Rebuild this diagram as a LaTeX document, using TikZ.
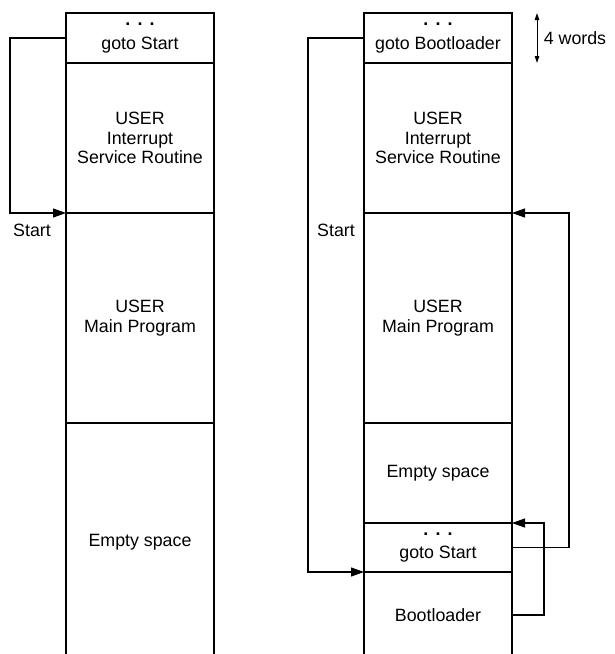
\documentclass[tikz,border=0pt]{standalone}
\usepackage{fontspec}
\setmainfont{Liberation Sans}
\usetikzlibrary{arrows.meta}
\usetikzlibrary{calc}
\newcommand{\drawopensect}[4]{
	\node (#1) [anchor=north,minimum width=148pt,minimum height=#3,outer sep=0pt,align=center] at #2 {#4};
	\draw (#1.south west) -- (#1.north west) -- (#1.north east) -- (#1.south east);
}
\newcommand{\memdots}{\textbf{.\hspace{.4em}.\hspace{.4em}.}}

\begin{document}
\begin{tikzpicture}[x=1pt,y=-1pt,line width=1.1pt,font=\fontsize{17.8}{19.5}\selectfont,
	sect/.style={draw,anchor=north,minimum width=148pt,outer sep=0pt,align=center},
	gotoline/.style={-{Triangle[length=13pt,width=9pt]}}]
	\useasboundingbox (0,0) rectangle (614,654);
	% without bootloader
	\node (lgoto) [sect,minimum height=50pt] at (140,13) {\memdots\\[4pt]goto Start};
	\node (lisr) [sect,minimum height=150pt] at (lgoto.south) {USER\\Interrupt\\Service Routine};
	\node (lmain) [sect,minimum height=210pt] at (lisr.south) {USER\\Main Program};
	\drawopensect{lempty}{(lmain.south)}{238pt}{Empty space}
	\draw[gotoline] (lgoto.west) -- ++(-56,0) |- (lisr.south west);
	\node (lstart) at (32,230) {Start};
	% with bootloader
	\node (rgoto) [sect,minimum height=50pt] at (438,13) {\memdots\\[4pt]goto Bootloader};
	\node (risr) [sect,minimum height=150pt] at (rgoto.south) {USER\\Interrupt\\Service Routine};
	\node (rmain) [sect,minimum height=210pt] at (risr.south) {USER\\Main Program};
	\node (rempty) [sect,minimum height=100pt] at (rmain.south) {Empty space};
	\node (rbgoto) [sect,minimum height=49pt] at (rempty.south) {\memdots\\[4pt]goto Start};
	\drawopensect{rboot}{(rbgoto.south)}{86pt}{Bootloader}
	\draw[gotoline] (rgoto.west) -- ++(-56,0) |- (rbgoto.south west);
	\draw[gotoline] (rbgoto.east) -- ++(57,0) |- (risr.south east);
	\draw[gotoline] (rboot.east) -- ++(32,0) |- (rempty.south east);
	\node (rstart) at (336,230) {Start};
	\draw[{Triangle[length=7pt,width=4.5pt]}-{Triangle[length=7pt,width=4.5pt]},line width=1pt] ([xshift=25pt]rgoto.north east) -- ([xshift=25pt]rgoto.south east) node (words) [midway,anchor=west,xshift=3pt] {4 words};
\end{tikzpicture}
\end{document}
